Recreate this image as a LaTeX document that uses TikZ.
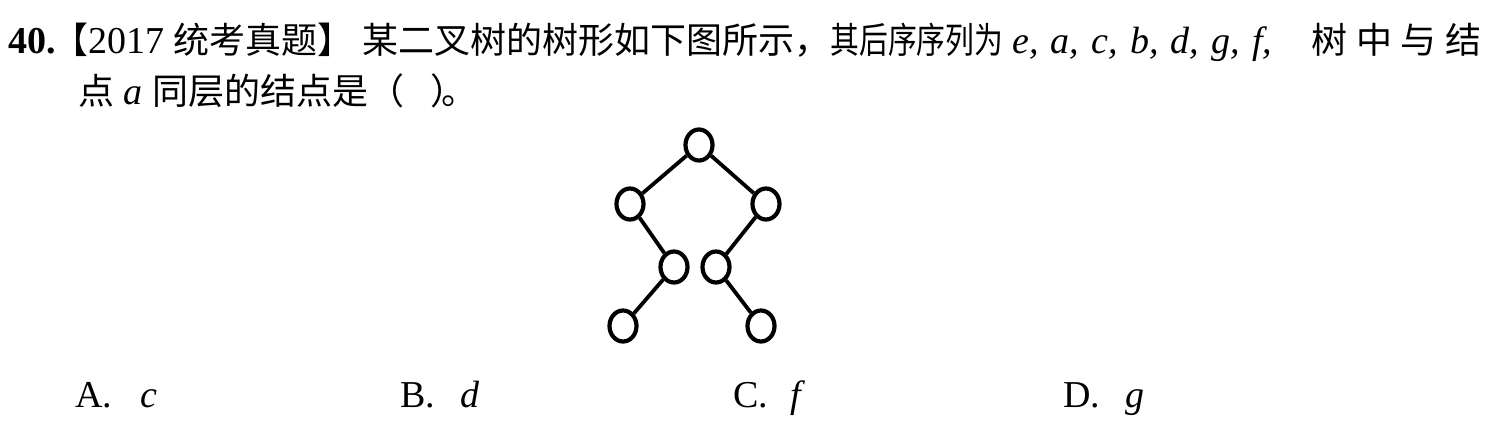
\documentclass[tikz,border=0pt]{standalone}
\usepackage{fontspec}
\setmainfont{Liberation Serif}
\newfontfamily\cjk{Noto Sans CJK SC}
\usetikzlibrary{shapes.geometric}
\newcommand\zh[1]{{\cjk\fontsize{18pt}{22pt}\selectfont #1}}

\begin{document}
\begin{tikzpicture}[x=0.5pt,y=-0.5pt,
    txt/.style={anchor=base west,inner sep=0pt,font=\fontsize{19pt}{22pt}\selectfont},
    vert/.style={draw,ellipse,line width=2.1pt,minimum width=13.5pt,minimum height=15.5pt,inner sep=0pt},
    edge/.style={line width=1.9pt}]
  \useasboundingbox (0,0) rectangle (1506,424);
  % question text, cut where the scan spreads it
  \node[txt] (num) at (8,53) {\textbf{40.}};
  \node[txt] (src) at (52,53) {\zh{【}2017 \zh{统考真题】}};
  \node[txt] (q1) at (362,53) {\zh{某二叉树的树形如下图所示，}};
  \node[txt] (q2) at (830,53) {\scalebox{0.8}[1]{\zh{其后序序列为}}};
  \node[txt] (seq) at (1012,53) {\makebox[130pt][s]{\itshape e, a, c, b, d, g, f,}};
  \node[txt] (q3) at (1311,53) {\makebox[85pt][s]{\zh{树}\hfill\zh{中}\hfill\zh{与}\hfill\zh{结}}};
  \node[txt] (q4) at (78,104) {\zh{点} \textit{a} \zh{同层的结点是（\hspace{13pt}）\hspace{-12.5pt}。}};
  % the tree
  \node[vert] (f) at (699,145) {};
  \node[vert] (c) at (630,204) {};
  \node[vert] (g) at (766,204) {};
  \node[vert] (a) at (674,267) {};
  \node[vert] (d) at (716,267) {};
  \node[vert] (e) at (623,326) {};
  \node[vert] (b) at (761,326) {};
  \draw[edge] (f) -- (c);
  \draw[edge] (f) -- (g);
  \draw[edge] (c) -- (a);
  \draw[edge] (a) -- (e);
  \draw[edge] (g) -- (d);
  \draw[edge] (d) -- (b);
  % choices
  \node[txt] (optA) at (75,407) {A.\hspace{14pt}\textit{c}};
  \node[txt] (optB) at (400,407) {B.\hspace{12.5pt}\textit{d}};
  \node[txt] (optC) at (733,407) {C.\hspace{11pt}\textit{f}};
  \node[txt] (optD) at (1063,407) {D.\hspace{12.5pt}\textit{g}};
\end{tikzpicture}
\end{document}
